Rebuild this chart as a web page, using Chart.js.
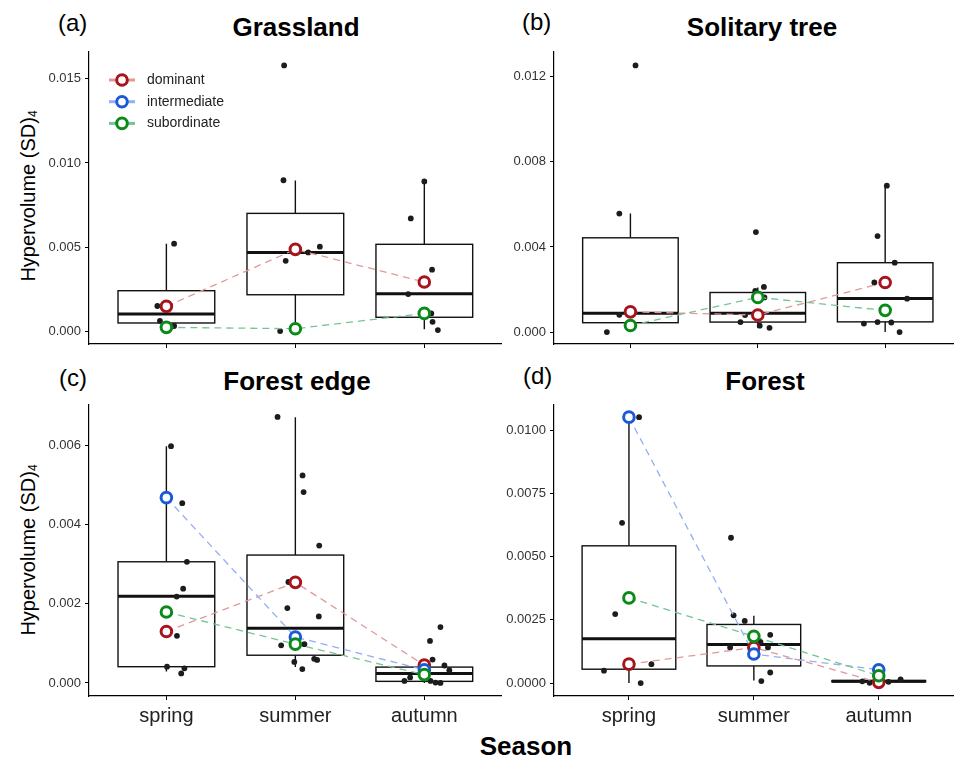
<!DOCTYPE html>
<html>
<head>
<meta charset="utf-8">
<script src="https://cdn.jsdelivr.net/npm/chart.js@4.4.0/dist/chart.umd.min.js"></script>
<style>
  body { margin: 0; background: #fff; width: 962px; height: 757px; position: relative; overflow: hidden;
         font-family: "Liberation Sans", Arial, sans-serif; color: #000; }
  canvas { position: absolute; }
  .lbl { position: absolute; font-size: 24px; line-height: 1; white-space: nowrap; }
  .ttl { position: absolute; font-size: 26px; font-weight: bold; line-height: 1; white-space: nowrap; transform: translateX(-50%); }
  .ytl { position: absolute; font-size: 20px; line-height: 1; white-space: nowrap; transform: translate(-50%, -50%) rotate(-90deg); }
  .ytl sup { font-size: 12px; vertical-align: -2px; line-height: 0; }
</style>
</head>
<body>
<div class="lbl" style="left:58px;top:11px">(a)</div>
<div class="lbl" style="left:522px;top:10px">(b)</div>
<div class="lbl" style="left:59px;top:366px">(c)</div>
<div class="lbl" style="left:523px;top:364px">(d)</div>
<div class="ttl" style="left:296px;top:14px">Grassland</div>
<div class="ttl" style="left:762px;top:14px">Solitary tree</div>
<div class="ttl" style="left:297px;top:368px">Forest edge</div>
<div class="ttl" style="left:765px;top:368px">Forest</div>
<div class="ytl" style="left:28px;top:196px">Hypervolume (SD)<sup>4</sup></div>
<div class="ytl" style="left:28px;top:550px">Hypervolume (SD)<sup>4</sup></div>
<div class="ttl" style="left:526px;top:733px">Season</div>

<canvas id="grass" width="510" height="322" style="left:0;top:38px"></canvas>
<canvas id="tree" width="482" height="322" style="left:480px;top:38px"></canvas>
<canvas id="edge" width="510" height="340" style="left:0;top:390px"></canvas>
<canvas id="forest" width="482" height="340" style="left:480px;top:390px"></canvas>

<script>
// categorie e gruppi
const seasons = ['spring', 'summer', 'autumn'];
const groups = ['dominant', 'intermediate', 'subordinate'];
const groupColors = ['#a8141e', '#1a5ad8', '#0a8a1a'];
const groupLineColors = ['#e39898', '#93aef2', '#74c594'];

// (a) Grassland
const grassTicks = ['0.000', '0.005', '0.010', '0.015'];
const grassLimits = [-0.00077, 0.0166];
const grassLow = [0.0003, 0.0001, 0.0001];
const grassQ1 = [0.00048, 0.00216, 0.00082];
const grassMedian = [0.00101, 0.00468, 0.00222];
const grassQ3 = [0.0024, 0.0070, 0.00516];
const grassHigh = [0.0052, 0.00895, 0.00889];
const grassPointX = [1.06, 0.93, 0.95, 1.06, 1.03,
                     1.913, 1.908, 1.925, 2.10, 2.19, 1.882,
                     3.0, 2.895, 3.06, 2.875, 3.054, 3.064, 3.105];
const grassPointY = [0.0052, 0.00149, 0.00061, 0.0003, 0.00022,
                     0.0158, 0.00897, 0.00418, 0.00468, 0.00502, 0.0,
                     0.0089, 0.0067, 0.00365, 0.0022, 0.00105, 0.00055, 0.00006];
const grassDominant = [0.00147, 0.00486, 0.00292];
const grassIntermediate = [null, null, null];
const grassSubordinate = [0.00022, 0.00014, 0.00105];

// (b) Solitary tree
const treeTicks = ['0.000', '0.004', '0.008', '0.012'];
const treeLimits = [-0.00056, 0.01316];
const treeLow = [0.0, 0.0002, 0.0];
const treeQ1 = [0.00044, 0.00047, 0.00048];
const treeMedian = [0.00089, 0.00089, 0.00158];
const treeQ3 = [0.00443, 0.00186, 0.00326];
const treeHigh = [0.00557, 0.0021, 0.00688];
const treePointX = [1.04, 0.913, 0.913, 0.815,
                    1.985, 2.048, 1.98, 2.052, 1.90, 1.864, 2.015, 2.092,
                    3.013, 2.94, 3.075, 2.915, 3.172, 2.833, 2.94, 3.048, 3.113];
const treePointY = [0.01253, 0.00557, 0.00081, 0.0,
                    0.0047, 0.00212, 0.00194, 0.00163, 0.0008, 0.00047, 0.0003, 0.0002,
                    0.00688, 0.00451, 0.00326, 0.00233, 0.00157, 0.0004, 0.00047, 0.00045, 0.0];
const treeDominant = [0.00095, 0.0008, 0.00233];
const treeIntermediate = [null, null, null];
const treeSubordinate = [0.00031, 0.00163, 0.00102];

// (c) Forest edge
const edgeTicks = ['0.000', '0.002', '0.004', '0.006'];
const edgeLimits = [-0.00033, 0.00702];
const edgeLow = [0.00029, 0.0004, 0.0];
const edgeQ1 = [0.00041, 0.0007, 0.00004];
const edgeMedian = [0.00219, 0.00138, 0.00024];
const edgeQ3 = [0.00306, 0.00323, 0.0004];
const edgeHigh = [0.00598, 0.00671, 0.0006];
const edgePointX = [1.036, 1.123, 1.159, 1.13, 1.08, 1.082, 1.005, 1.14, 1.115,
                    1.862, 2.056, 2.064, 2.185, 1.946, 1.938, 2.182, 1.89, 2.07, 2.146, 2.169, 1.992, 2.054,
                    3.125, 3.044, 3.064, 3.156, 3.194, 2.89, 2.846, 3.048, 3.087, 3.125];
const edgePointY = [0.00598, 0.00454, 0.00306, 0.00238, 0.00218, 0.00119, 0.00041, 0.00037, 0.00024,
                    0.00672, 0.00524, 0.00482, 0.00347, 0.00255, 0.00189, 0.00168, 0.00095, 0.00098, 0.00061, 0.00058, 0.00053, 0.00035,
                    0.00141, 0.00106, 0.00059, 0.00044, 0.00032, 0.00014, 0.00005, 0.00005, 0.00001, 0.0];
const edgeDominant = [0.0013, 0.00254, 0.00045];
const edgeIntermediate = [0.00468, 0.00116, 0.00033];
const edgeSubordinate = [0.00179, 0.00098, 0.00021];

// (d) Forest
const forestTicks = ['0.0000', '0.0025', '0.0050', '0.0075', '0.0100'];
const forestLimits = [-0.00051, 0.0110];
const forestLow = [0.0, 0.0001, 0.00001];
const forestQ1 = [0.00055, 0.00068, 0.00005];
const forestMedian = [0.00175, 0.00153, 0.00007];
const forestQ3 = [0.00543, 0.00232, 0.0001];
const forestHigh = [0.0105, 0.00266, 0.00015];
const forestPointX = [1.081, 0.945, 0.89, 1.18, 0.80, 1.094,
                      1.817, 1.838, 1.927, 2.131, 2.053, 1.81, 2.113, 2.131, 2.06,
                      2.869, 2.927, 3.078, 3.175];
const forestPointY = [0.01052, 0.00634, 0.00273, 0.00075, 0.00049, 0.0,
                      0.00575, 0.00268, 0.00246, 0.00191, 0.00163, 0.00141, 0.00141, 0.00042, 0.00008,
                      0.00007, 0.00001, 0.00005, 0.00015];
const forestDominant = [0.00075, 0.00141, 0.00003];
const forestIntermediate = [0.01052, 0.00115, 0.00053];
const forestSubordinate = [0.00337, 0.00185, 0.00029];

// disegna i box (baffi, scatola, mediana) con le scale del grafico
function drawBoxes(chart, box) {
  const x = chart.scales.x, y = chart.scales.y, ctx = chart.ctx;
  ctx.save();
  ctx.strokeStyle = '#111';
  seasons.forEach((s, i) => {
    const cx = x.getPixelForValue(i + 1);
    const half = x.getPixelForValue(i + 1.375) - cx;
    const yq1 = y.getPixelForValue(box.q1[i]), yq3 = y.getPixelForValue(box.q3[i]);
    ctx.lineWidth = 1.4;
    ctx.beginPath();
    ctx.moveTo(cx, y.getPixelForValue(box.high[i])); ctx.lineTo(cx, yq3);
    ctx.moveTo(cx, yq1); ctx.lineTo(cx, y.getPixelForValue(box.low[i]));
    ctx.stroke();
    ctx.fillStyle = '#fff';
    ctx.fillRect(cx - half, yq3, half * 2, yq1 - yq3);
    ctx.strokeRect(cx - half, yq3, half * 2, yq1 - yq3);
    ctx.lineWidth = 3;
    ctx.beginPath();
    const ym = y.getPixelForValue(box.median[i]);
    ctx.moveTo(cx - half, ym); ctx.lineTo(cx + half, ym);
    ctx.stroke();
  });
  ctx.restore();
}

// legenda dentro il pannello (a)
function drawLegend(chart) {
  const ctx = chart.ctx, a = chart.chartArea;
  ctx.save();
  ctx.font = '14px "Liberation Sans", Arial, sans-serif';
  ctx.textBaseline = 'middle';
  groups.forEach((g, i) => {
    const yy = a.top + 28 + i * 21.7;
    ctx.strokeStyle = groupLineColors[i];
    ctx.lineWidth = 3;
    ctx.beginPath(); ctx.moveTo(a.left + 20, yy); ctx.lineTo(a.left + 46, yy); ctx.stroke();
    ctx.beginPath(); ctx.arc(a.left + 33, yy, 5.3, 0, Math.PI * 2);
    ctx.fillStyle = '#fff'; ctx.fill();
    ctx.strokeStyle = groupColors[i]; ctx.lineWidth = 3; ctx.stroke();
    ctx.fillStyle = '#222';
    ctx.fillText(g, a.left + 58, yy);
  });
  ctx.restore();
}

function makePanel(id, p) {
  const ds = [];
  [p.dominant, p.intermediate, p.subordinate].forEach((vals, g) => {
    if (vals.every(v => v === null)) return;
    const pts = vals.map((v, i) => ({ x: i + 1, y: v }));
    ds.push({ label: groups[g], data: pts, order: 2 - g, showLine: false,
              pointRadius: 5.3, pointBorderWidth: 3, pointBackgroundColor: '#fff', pointBorderColor: groupColors[g] });
    ds.push({ label: groups[g] + ' mean', data: pts, order: 5 - g, showLine: true,
              borderColor: groupLineColors[g], borderWidth: 1.3, borderDash: [7, 5], pointRadius: 0 });
  });
  ds.push({ label: 'obs', data: p.pointX.map((v, i) => ({ x: v, y: p.pointY[i] })), order: 9,
            pointRadius: 2.9, pointBorderWidth: 0, pointBackgroundColor: '#1c1c1c' });

  const plugins = [{ id: 'boxes', beforeDatasetsDraw: c => drawBoxes(c, p.box) }];
  if (p.legend) plugins.push({ id: 'legendIn', afterDatasetsDraw: drawLegend });

  return new Chart(document.getElementById(id), {
    type: 'scatter',
    data: { datasets: ds },
    plugins: plugins,
    options: {
      responsive: false,
      animation: false,
      devicePixelRatio: 1,
      layout: { padding: { left: 0, top: p.padTop, right: p.padRight, bottom: 0 } },
      plugins: { legend: { display: false }, tooltip: { enabled: false } },
      scales: {
        x: {
          type: 'linear', min: 0.4, max: p.xMax,
          afterBuildTicks: s => { s.ticks = seasons.map((n, i) => ({ value: i + 1 })); },
          afterFit: s => { s.height = p.xHeight; },
          ticks: { display: p.bottom, callback: (v, i) => seasons[i], color: '#222', padding: 4,
                   font: { size: 20, family: '"Liberation Sans", Arial, sans-serif' } },
          grid: { drawOnChartArea: false, drawTicks: true, tickLength: 4, color: '#000', lineWidth: 1 },
          border: { display: true, color: '#000', width: 1.2 }
        },
        y: {
          type: 'linear', min: p.limits[0], max: p.limits[1],
          afterBuildTicks: s => { s.ticks = p.ticks.map(t => ({ value: parseFloat(t) })); },
          afterFit: s => { s.width = p.yWidth; },
          ticks: { callback: (v, i) => p.ticks[i], color: '#333', padding: 4,
                   font: { size: 13, family: '"Liberation Sans", Arial, sans-serif' } },
          grid: { drawOnChartArea: false, drawTicks: true, tickLength: 4, color: '#000', lineWidth: 1 },
          border: { display: true, color: '#000', width: 1.2 }
        }
      }
    }
  });
}

makePanel('grass', {
  ticks: grassTicks, limits: grassLimits, xMax: 3.6, legend: true, bottom: false,
  padTop: 14, padRight: 6, yWidth: 89, xHeight: 16,
  box: { low: grassLow, q1: grassQ1, median: grassMedian, q3: grassQ3, high: grassHigh },
  pointX: grassPointX, pointY: grassPointY,
  dominant: grassDominant, intermediate: grassIntermediate, subordinate: grassSubordinate
});
makePanel('tree', {
  ticks: treeTicks, limits: treeLimits, xMax: 3.538, legend: false, bottom: false,
  padTop: 14, padRight: 0, yWidth: 74, xHeight: 16,
  box: { low: treeLow, q1: treeQ1, median: treeMedian, q3: treeQ3, high: treeHigh },
  pointX: treePointX, pointY: treePointY,
  dominant: treeDominant, intermediate: treeIntermediate, subordinate: treeSubordinate
});
makePanel('edge', {
  ticks: edgeTicks, limits: edgeLimits, xMax: 3.6, legend: false, bottom: true,
  padTop: 15, padRight: 6, yWidth: 89, xHeight: 34,
  box: { low: edgeLow, q1: edgeQ1, median: edgeMedian, q3: edgeQ3, high: edgeHigh },
  pointX: edgePointX, pointY: edgePointY,
  dominant: edgeDominant, intermediate: edgeIntermediate, subordinate: edgeSubordinate
});
makePanel('forest', {
  ticks: forestTicks, limits: forestLimits, xMax: 3.6, legend: false, bottom: true,
  padTop: 15, padRight: 0, yWidth: 74, xHeight: 34,
  box: { low: forestLow, q1: forestQ1, median: forestMedian, q3: forestQ3, high: forestHigh },
  pointX: forestPointX, pointY: forestPointY,
  dominant: forestDominant, intermediate: forestIntermediate, subordinate: forestSubordinate
});
</script>
</body>
</html>
